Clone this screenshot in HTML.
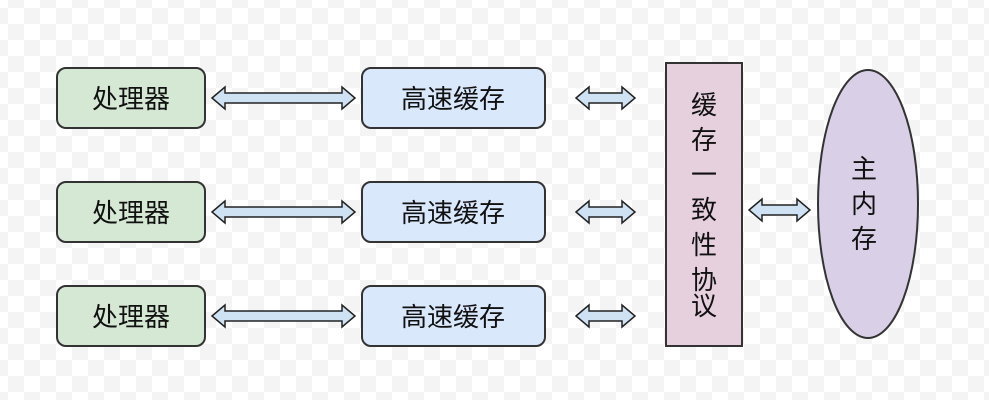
<!DOCTYPE html>
<html><head><meta charset="utf-8"><style>
body{margin:0;width:989px;height:400px;overflow:hidden;
background-color:#fff;
background-image:conic-gradient(#f4f4f4 25%,#fff 0 50%,#f4f4f4 0 75%,#fff 0);
background-size:32px 32px;background-position:8px 8px;
font-family:"Liberation Sans","Noto Sans CJK SC",sans-serif;}
svg{position:absolute;left:0;top:0}
text{font-family:"Liberation Sans","Noto Sans CJK SC",sans-serif;font-size:26px;fill:#111}
</style></head><body>
<svg width="989" height="400" viewBox="0 0 989 400">
<defs>
<g id="arr"><polygon points="0,0 12,-11 12,-5 -12,-5" fill="none"/></g>
</defs>
<g stroke="#333" stroke-width="2">
<rect x="57" y="68" width="148" height="60" rx="9" fill="#d5e8d4"/>
<rect x="57" y="182" width="148" height="60" rx="9" fill="#d5e8d4"/>
<rect x="57" y="286" width="148" height="60" rx="9" fill="#d5e8d4"/>
<rect x="362" y="68" width="183" height="60" rx="9" fill="#dae8fc"/>
<rect x="362" y="182" width="183" height="60" rx="9" fill="#dae8fc"/>
<rect x="362" y="286" width="183" height="60" rx="9" fill="#dae8fc"/>
<rect x="666" y="63" width="76" height="283" fill="#e6d0de"/>
<ellipse cx="868" cy="204" rx="50" ry="134" fill="#d9d0e8"/>
</g>
<g fill="#cfe2f3" stroke="#222" stroke-width="1.5">
<polygon points="212,98 225,87 225,93 342,93 342,87 355,98 342,109 342,103 225,103 225,109"/>
<polygon points="212,212 225,201 225,207 342,207 342,201 355,212 342,223 342,217 225,217 225,223"/>
<polygon points="212,316 225,305 225,311 342,311 342,305 355,316 342,327 342,321 225,321 225,327"/>
<polygon points="576,98 589,87 589,93 622,93 622,87 635,98 622,109 622,103 589,103 589,109"/>
<polygon points="576,212 589,201 589,207 622,207 622,201 635,212 622,223 622,217 589,217 589,223"/>
<polygon points="576,316 589,305 589,311 622,311 622,305 635,316 622,327 622,321 589,321 589,327"/>
<polygon points="749,210 762,199 762,205 797,205 797,199 810,210 797,221 797,215 762,215 762,221"/>
</g>
<g text-anchor="middle">
<text x="131" y="108">处理器</text>
<text x="131" y="222">处理器</text>
<text x="131" y="326">处理器</text>
<text x="453" y="108">高速缓存</text>
<text x="453" y="222">高速缓存</text>
<text x="453" y="326">高速缓存</text>
<text x="704" y="114">缓</text>
<text x="704" y="149">存</text>
<text x="704" y="184">一</text>
<text x="704" y="219">致</text>
<text x="704" y="254">性</text>
<text x="704" y="289">协</text>
<text x="704" y="315">议</text>
<text x="864" y="178">主</text>
<text x="864" y="213">内</text>
<text x="864" y="248">存</text>
</g>
</svg>
</body></html>
